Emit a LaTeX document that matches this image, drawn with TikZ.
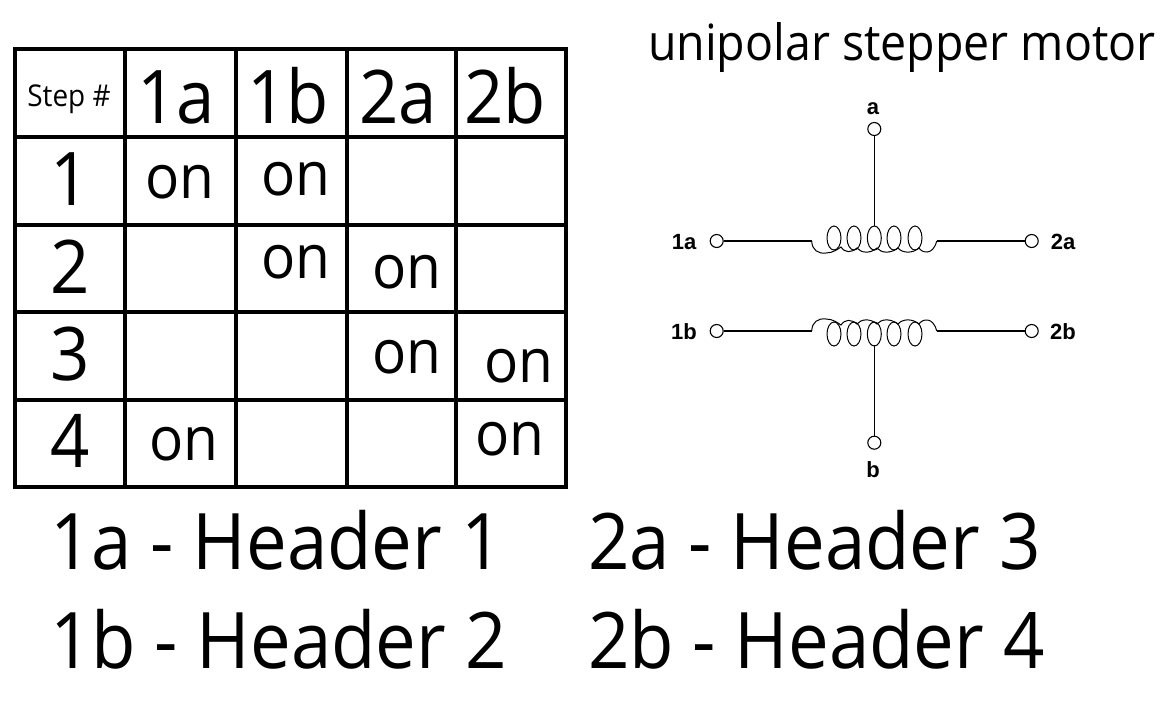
\documentclass[tikz,border=0pt]{standalone}
\usepackage{fontspec}
\setmainfont[FakeStretch=0.93]{Open Sans}
\newfontfamily\labfont{Liberation Sans}
\tikzset{
  px/.style={x=1pt,y=-1pt},
  txt/.style={anchor=base,inner sep=0pt,outer sep=0pt,text=black},
  headtxt/.style={txt,font=\fontsize{74}{74}\selectfont},
  ontxt/.style={txt,font=\fontsize{61}{61}\selectfont},
  bigtxt/.style={txt,anchor=base west,font=\fontsize{78}{78}\selectfont},
  lab/.style={txt,font=\labfont\bfseries\fontsize{22}{22}\selectfont},
  term/.style={circle,draw=black,line width=1.1pt,fill=white,minimum size=13pt,inner sep=0pt},
  wire/.style={draw=black,line width=1.6pt},
  coilline/.style={draw=black,line width=1pt},
  gridline/.style={draw=black,line width=3.6pt,line cap=rect}
}
\begin{document}
\begin{tikzpicture}[px]
\useasboundingbox (0,0) rectangle (1170,705);
% table
\foreach \x in {15,125,236,347,456,566} \draw[gridline] (\x,49) -- (\x,487);
\foreach \y in {49,137,225,312,400,487} \draw[gridline] (15,\y) -- (566,\y);
\node[txt,font=\fontsize{30}{30}\selectfont] (step) at (69,106) {Step \#};
\node[headtxt] (h1a) at (176,123) {1a};
\node[headtxt] (h1b) at (288,123) {1b};
\node[headtxt] (h2a) at (398,123) {2a};
\node[headtxt] (h2b) at (505,123) {2b};
\node[headtxt] (r1) at (70,205) {1};
\node[headtxt] (r2) at (70,293) {2};
\node[headtxt] (r3) at (70,380) {3};
\node[headtxt] (r4) at (70,467) {4};
\node[ontxt] (on11) at (180,198) {on};
\node[ontxt] (on12) at (296,195) {on};
\node[ontxt] (on22) at (296,278) {on};
\node[ontxt] (on23) at (407,288) {on};
\node[ontxt] (on33) at (407,373) {on};
\node[ontxt] (on34) at (519,382) {on};
\node[ontxt] (on41) at (184,460) {on};
\node[ontxt] (on44) at (510,455) {on};
% title
\node[txt,anchor=base west,font=\fontsize{50}{50}\selectfont] (title) at (648,60) {unipolar stepper motor};
% terminals
\node[term] (t1a) at (716.7,241) {};
\node[term] (t2a) at (1031.7,241) {};
\node[term] (ta) at (874.3,129) {};
\node[term] (t1b) at (716.7,331) {};
\node[term] (t2b) at (1031.7,331) {};
\node[term] (tb) at (874.3,442.7) {};
\coordinate (ca) at (874.3,226);
\coordinate (cb) at (874.3,345);
\coordinate (c1a) at (811.7,241);
\coordinate (c2a) at (936.7,241);
\coordinate (c1b) at (811.7,331);
\coordinate (c2b) at (936.7,331);
\draw[wire] (t1a) -- (c1a);
\draw[wire] (t2a) -- (c2a);
\draw[wire] (t1b) -- (c1b);
\draw[wire] (t2b) -- (c2b);
\draw[wire] (ta) -- (ca);
\draw[wire] (tb) -- (cb);
% coils
\foreach \x in {834,854,874.3,894,915} {
  \draw[coilline] (\x,238) ellipse [x radius=7,y radius=12];
  \draw[coilline] (\x,334) ellipse [x radius=7,y radius=12];
}
\draw[coilline] (c1a) .. controls (812,250) and (818,254) .. (826,253)
  .. controls (833,253) and (838,249) .. (841,247) .. controls (845,253) and (851,253) .. (857,248)
  .. controls (861,253) and (870,254) .. (877,248) .. controls (881,253) and (890,254) .. (898,248)
  .. controls (902,253) and (912,254) .. (919,248) .. controls (922,253) and (933,256) .. (936.7,241);
\draw[coilline] (c1b) .. controls (812,322) and (818,318) .. (826,319)
  .. controls (833,319) and (838,323) .. (841,325) .. controls (845,319) and (851,319) .. (857,324)
  .. controls (861,319) and (870,318) .. (877,324) .. controls (881,319) and (890,318) .. (898,324)
  .. controls (902,319) and (912,318) .. (919,324) .. controls (922,319) and (933,316) .. (936.7,331);
% terminal labels
\node[lab] (l1a) at (684,249) {1a};
\node[lab] (l2a) at (1063,249) {2a};
\node[lab] (l1b) at (684,339) {1b};
\node[lab] (l2b) at (1063,339) {2b};
\node[lab] (la) at (873,114) {a};
\node[lab] (lb) at (873,477) {b};
% legend
\node[bigtxt] (k1) at (50,569) {1a - Header 1};
\node[bigtxt] (k2) at (588,569) {2a - Header 3};
\node[bigtxt] (k3) at (50,668) {1b - Header 2};
\node[bigtxt] (k4) at (588,668) {2b - Header 4};
\end{tikzpicture}
\end{document}
